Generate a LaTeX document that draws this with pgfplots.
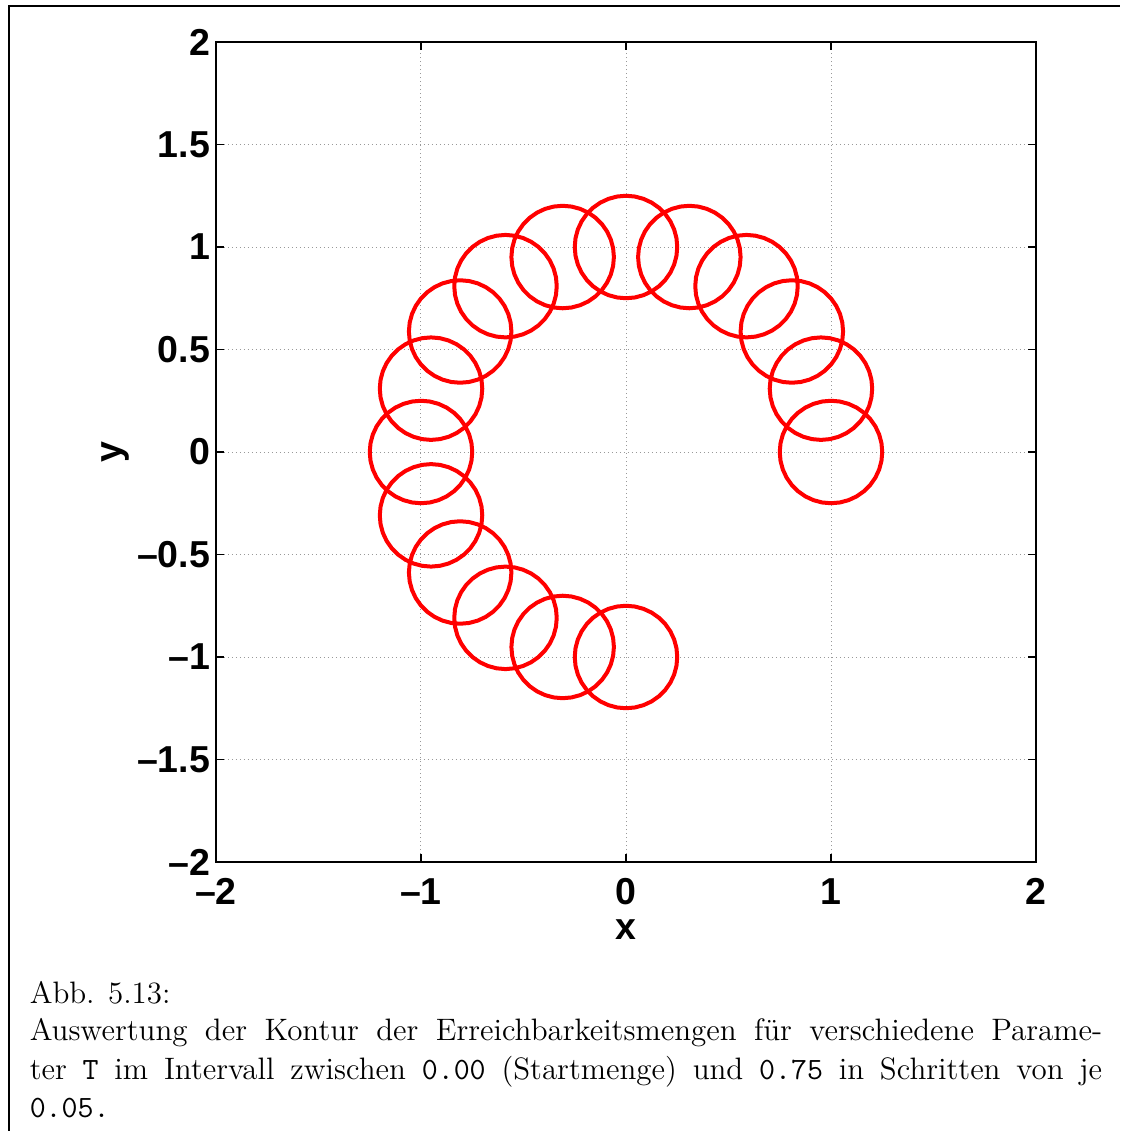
\documentclass[border=0pt]{standalone}
\usepackage{fontspec}
\newfontfamily\plotfont{Liberation Sans}
\usepackage{pgfplots}
\usepackage{pgfplotstable}
\pgfplotsset{compat=1.18}

% contour of the start set (circle of radius 0.25 about the origin)
\pgfplotstableread{
x y
0.25 0
0.24620 0.04341
0.23492 0.08551
0.21651 0.125
0.19151 0.16070
0.16070 0.19151
0.125 0.21651
0.08551 0.23492
0.04341 0.24620
0 0.25
-0.04341 0.24620
-0.08551 0.23492
-0.125 0.21651
-0.16070 0.19151
-0.19151 0.16070
-0.21651 0.125
-0.23492 0.08551
-0.24620 0.04341
-0.25 0
-0.24620 -0.04341
-0.23492 -0.08551
-0.21651 -0.125
-0.19151 -0.16070
-0.16070 -0.19151
-0.125 -0.21651
-0.08551 -0.23492
-0.04341 -0.24620
0 -0.25
0.04341 -0.24620
0.08551 -0.23492
0.125 -0.21651
0.16070 -0.19151
0.19151 -0.16070
0.21651 -0.125
0.23492 -0.08551
0.24620 -0.04341
0.25 0
}\contour

% contour shifted to the centre of the reachable set for one value of T
\newcommand{\contourat}[2]{%
  \addplot[red, line width=1.6pt, line join=round]
    table[x expr=\thisrow{x}+(#1), y expr=\thisrow{y}+(#2)]{\contour};}

\begin{document}
\begin{tikzpicture}
\useasboundingbox (0,0) rectangle (448pt,-452.4pt);
\draw[line width=0.6pt] (3.6pt,-452.4pt) -- (3.6pt,-2.3pt) -- (448pt,-2.3pt);

\begin{axis}[
  at={(86.4pt,-16.8pt)}, anchor=north west,
  scale only axis, width=328pt, height=328pt,
  xmin=-2, xmax=2, ymin=-2, ymax=2,
  xtick={-2,-1,0,1,2},
  xticklabels={\textendash2,\textendash1,0,1,2},
  ytick={-2,-1.5,-1,-0.5,0,0.5,1,1.5,2},
  yticklabels={\textendash2,\textendash1.5,\textendash1,\textendash0.5,0,0.5,1,1.5,2},
  tick align=inside, xtick pos=both, ytick pos=both,
  ticklabel pos=left,
  major tick length=3.2pt,
  every tick/.style={black, line width=0.6pt},
  axis line style={line width=0.8pt},
  grid=major,
  major grid style={gray!80, line width=0.4pt, dash pattern=on 0.45pt off 1.15pt},
  tick label style={font=\fontsize{15}{18}\selectfont\plotfont\bfseries},
  xticklabel style={inner sep=0pt, yshift=-6.4pt},
  yticklabel style={inner sep=0pt, xshift=-2.2pt},
  label style={font=\fontsize{15}{18}\selectfont\plotfont\bfseries},
  xlabel={x}, ylabel={y},
  xlabel style={at={(axis description cs:0.5,-0.0695)}, anchor=north, inner sep=0pt},
  ylabel style={at={(axis description cs:-0.1049,0.5)}, anchor=south, inner sep=0pt, rotate=0},
]
\contourat{1}{0}
\contourat{0.95106}{0.30902}
\contourat{0.80902}{0.58779}
\contourat{0.58779}{0.80902}
\contourat{0.30902}{0.95106}
\contourat{0}{1}
\contourat{-0.30902}{0.95106}
\contourat{-0.58779}{0.80902}
\contourat{-0.80902}{0.58779}
\contourat{-0.95106}{0.30902}
\contourat{-1}{0}
\contourat{-0.95106}{-0.30902}
\contourat{-0.80902}{-0.58779}
\contourat{-0.58779}{-0.80902}
\contourat{-0.30902}{-0.95106}
\contourat{0}{-1}
\end{axis}

\begin{scope}[every node/.style={anchor=base west, inner sep=0pt, font=\fontsize{12.4}{15}\selectfont}]
\node at (11.7pt,-401.3pt) {Abb. 5.13:};
\node at (11.7pt,-416.2pt) {\makebox[429pt][s]{Auswertung der Kontur der Erreichbarkeitsmengen für verschiedene Parame-}};
\node at (11.7pt,-431.6pt) {\makebox[429pt][s]{ter \texttt{T} im Intervall zwischen \texttt{0.00} (Startmenge) und \texttt{0.75} in Schritten von je}};
\node at (11.7pt,-447pt) {\texttt{0.05.}};
\end{scope}
\end{tikzpicture}
\end{document}
